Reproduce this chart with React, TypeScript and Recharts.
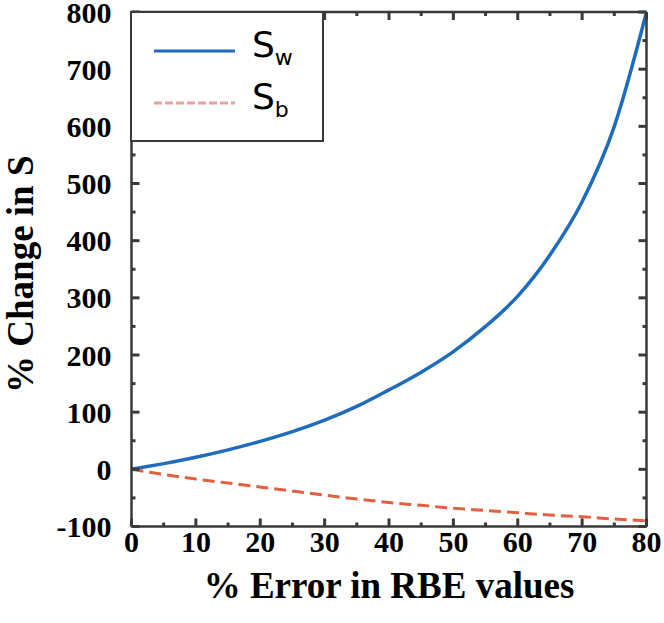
import React from "react";
import { LineChart, Line, XAxis, YAxis, Legend, Label } from "recharts";

// % error in RBE values (x) and % change in S for the two series
const errorPct = [0, 5, 10, 15, 20, 25, 30, 35, 40, 45, 50, 55, 60, 65, 70, 75, 80];
const swChange = [0, 10, 21, 34, 49, 66, 86, 110, 139, 170, 206, 250, 303, 375, 468, 600, 800];
const sbChange = [0, -9, -17, -24, -31, -38, -45, -52, -58, -63, -68, -72, -76, -80, -83, -87, -90];

const xTicks = [0, 5, 10, 15, 20, 25, 30, 35, 40, 45, 50, 55, 60, 65, 70, 75, 80];
const yTicks = [-100, -50, 0, 50, 100, 150, 200, 250, 300, 350, 400, 450, 500, 550, 600, 650, 700, 750, 800];

const data = errorPct.map((x, i) => ({ x, sw: swChange[i], sb: sbChange[i] }));

const AXIS = "#3a3a3a";
const BLUE = "#1f6cbf";
const RED = "#e2603f";
const SERIF = "'Liberation Serif', 'Times New Roman', serif";

const MAJOR = 8;
const MINOR = 4;
const X_GAP = 4;
const Y_GAP = 20;
const TICK_W = 3;

const series = [
  { key: "sw", sub: "w", dash: undefined as string | undefined, legendColor: BLUE },
  { key: "sb", sub: "b", dash: "8 3", legendColor: "#e9a29c" },
];

function BottomTick(props: any) {
  const { x, y, payload } = props;
  const v = payload.value;
  const major = v % 10 === 0;
  const ay = y - X_GAP;
  return (
    <g>
      <path d={`M${x},${ay}L${x},${ay - (major ? MAJOR : MINOR)}`} stroke={AXIS} strokeWidth={TICK_W} />
      {major && (
        <text x={x} y={y} dy="0.71em" textAnchor="middle" fontFamily={SERIF} fontWeight="bold" fontSize={30} fill="#000">
          {v}
        </text>
      )}
    </g>
  );
}

function TopTick(props: any) {
  const { x, y, payload } = props;
  const major = payload.value % 10 === 0;
  const ay = y + X_GAP;
  return <path d={`M${x},${ay}L${x},${ay + (major ? MAJOR : MINOR)}`} stroke={AXIS} strokeWidth={TICK_W} />;
}

function LeftTick(props: any) {
  const { x, y, payload } = props;
  const v = payload.value;
  const major = v % 100 === 0;
  const ax = x + Y_GAP;
  return (
    <g>
      <path d={`M${ax},${y}L${ax + (major ? MAJOR : MINOR)},${y}`} stroke={AXIS} strokeWidth={TICK_W} />
      {major && (
        <text x={x} y={y} dy="0.355em" textAnchor="end" fontFamily={SERIF} fontWeight="bold" fontSize={30} fill="#000">
          {v}
        </text>
      )}
    </g>
  );
}

function RightTick(props: any) {
  const { x, y, payload } = props;
  const major = payload.value % 100 === 0;
  const ax = x - X_GAP;
  return <path d={`M${ax},${y}L${ax - (major ? MAJOR : MINOR)},${y}`} stroke={AXIS} strokeWidth={TICK_W} />;
}

function LegendBox(props: any) {
  const { payload } = props;
  const items = series.filter((s) => (payload || []).some((p: any) => p.dataKey === s.key));
  return (
    <div
      style={{
        width: 190,
        height: 127,
        border: `2.5px solid ${AXIS}`,
        background: "#fff",
        boxSizing: "content-box",
        fontFamily: "'DejaVu Sans', sans-serif",
        color: "#000",
      }}
    >
      {items.map((s, i) => (
        <div key={s.key} style={{ display: "flex", alignItems: "center", height: 52, marginTop: i === 0 ? 12 : 0 }}>
          <svg width={120} height={20} style={{ display: "block" }}>
            <line x1={22} x2={103} y1={10} y2={10} stroke={s.legendColor} strokeWidth={3} strokeDasharray={s.dash} />
          </svg>
          <span style={{ fontSize: 36, lineHeight: "40px" }}>
            S<sub style={{ fontSize: 22, verticalAlign: "-8px" }}>{s.sub}</sub>
          </span>
        </div>
      ))}
    </div>
  );
}

export default function App() {
  return (
    <div style={{ position: "absolute", left: 0, top: 0, width: 664, height: 623, background: "#fff" }}>
      <LineChart width={664} height={623} data={data} margin={{ top: 0, right: 0, bottom: 0, left: 0 }}>
        <XAxis
          dataKey="x"
          type="number"
          domain={[0, 80]}
          ticks={xTicks}
          interval={0}
          height={96.5}
          tickSize={0}
          tickMargin={X_GAP}
          tickLine={false}
          tick={<BottomTick />}
          axisLine={{ stroke: AXIS, strokeWidth: 2.5 }}
        >
          <Label
            content={({ viewBox }: any) => (
              <text
                x={viewBox.x + viewBox.width / 2}
                y={viewBox.y + 71}
                textAnchor="middle"
                fontFamily={SERIF}
                fontWeight="bold"
                fontSize={37}
                fill="#000"
              >
                % Error in RBE values
              </text>
            )}
          />
        </XAxis>
        <XAxis
          xAxisId="top"
          orientation="top"
          dataKey="x"
          type="number"
          domain={[0, 80]}
          ticks={xTicks}
          interval={0}
          height={12}
          tickSize={0}
          tickMargin={X_GAP}
          tickLine={false}
          tick={<TopTick />}
          axisLine={{ stroke: AXIS, strokeWidth: 2.5 }}
        />
        <YAxis
          type="number"
          domain={[-100, 800]}
          ticks={yTicks}
          interval={0}
          width={131.5}
          tickSize={0}
          tickMargin={Y_GAP}
          tickLine={false}
          tick={<LeftTick />}
          axisLine={{ stroke: AXIS, strokeWidth: 2.5 }}
        >
          <Label
            content={({ viewBox }: any) => {
              const cx = viewBox.x + 33;
              const cy = viewBox.y + viewBox.height / 2 + 5;
              return (
                <text
                  x={cx}
                  y={cy}
                  transform={`rotate(-90, ${cx}, ${cy})`}
                  textAnchor="middle"
                  fontFamily={SERIF}
                  fontWeight="bold"
                  fontSize={37}
                  fill="#000"
                >
                  % Change in S
                </text>
              );
            }}
          />
        </YAxis>
        <YAxis
          yAxisId="right"
          orientation="right"
          type="number"
          domain={[-100, 800]}
          ticks={yTicks}
          interval={0}
          width={17.5}
          tickSize={0}
          tickMargin={X_GAP}
          tickLine={false}
          tick={<RightTick />}
          axisLine={{ stroke: AXIS, strokeWidth: 2.5 }}
        />
        <Legend
          layout="vertical"
          align="center"
          verticalAlign="middle"
          content={<LegendBox />}
          wrapperStyle={{ left: 130, top: 11, width: "auto", height: "auto" }}
        />
        <Line
          type="monotone"
          dataKey="sw"
          name="Sw"
          stroke={BLUE}
          strokeWidth={3.5}
          dot={false}
          isAnimationActive={false}
        />
        <Line
          type="monotone"
          dataKey="sb"
          name="Sb"
          yAxisId="right"
          stroke={RED}
          strokeWidth={3}
          strokeDasharray="12 6"
          dot={false}
          isAnimationActive={false}
        />
      </LineChart>
    </div>
  );
}
